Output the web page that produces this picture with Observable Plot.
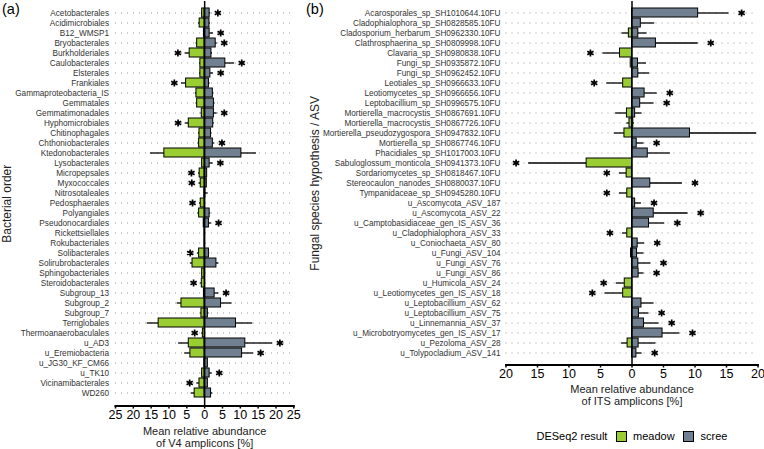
<!DOCTYPE html>
<html><head><meta charset="utf-8">
<script src="https://cdn.jsdelivr.net/npm/d3@7"></script>
<script src="https://cdn.jsdelivr.net/npm/@observablehq/plot@0.6"></script>
<style>
body{margin:0;background:#fff;}
#wrap{position:relative;width:764px;height:449px;overflow:hidden;font-family:"Liberation Sans",Arial,sans-serif;color:#000;}
.abs{position:absolute;white-space:nowrap;}
.box{position:absolute;box-sizing:border-box;border:1px solid #000;}
svg{position:absolute;top:0;}
</style></head><body><div id="wrap"></div>
<script>
// ---------- Panel (a): bacterial orders ----------
const bactOrders = ["Acetobacterales","Acidimicrobiales","B12_WMSP1","Bryobacterales","Burkholderiales","Caulobacterales","Elsterales","Frankiales","Gammaproteobacteria_IS","Gemmatales","Gemmatimonadales","Hyphomicrobiales","Chitinophagales","Chthoniobacterales","Ktedonobacterales","Lysobacterales","Micropepsales","Myxococcales","Nitrosotaleales","Pedosphaerales","Polyangiales","Pseudonocardiales","Rickettsiellales","Rokubacteriales","Solibacterales","Solirubrobacterales","Sphingobacteriales","Steroidobacterales","Subgroup_13","Subgroup_2","Subgroup_7","Terriglobales","Thermoanaerobaculales","u_AD3","u_Eremiobacteria","u_JG30_KF_CM66","u_TK10","Vicinamibacterales","WD260"];
const bactMeadow   = [-0.7,-1.4,-0.2,-2.1,-4.2,-1.2,-1.2,-5.2,-2.3,-2.1,-0.8,-4.45,-1.45,-1.55,-11.3,-0.7,-1.4,-1.1,-0.1,-1.1,-1.55,-0.25,-0.05,-0.05,-1.55,-3.4,-0.7,-0.8,-0.2,-6.5,-0.9,-12.9,-0.5,-4.45,-4.0,-0.1,-0.7,-1.45,-2.8];
const bactMeadowSD = [0.2,0.3,0.1,0.3,1.3,0.2,0.2,1.3,0.3,0.3,0.2,1.0,0.25,0.3,3.9,0.2,0.3,0.5,0.05,0.3,0.35,0.1,0,0,0.5,0.6,0.2,0.3,0.1,1.2,0.2,3.2,0.3,2.85,1.6,0,0.2,0.75,1.0];
const bactScree    = [1.4,1.35,1.4,3.1,1.9,5.8,1.6,1.2,2.3,2.6,2.6,2.4,1.8,2.3,10.3,1.4,0.7,0.6,0.2,0.1,1.4,1.2,0.05,0.05,1.2,3.3,0.1,0,2.8,4.6,0.9,8.8,0,11.4,10.5,0.9,1.4,0.9,1.8];
const bactScreeSD  = [0.3,0.25,1.1,0.4,0.3,2.6,0.9,0.3,0.3,0.3,0.9,0.3,0.2,0.55,4.2,1.0,0.1,0.1,0.8,0.1,0.3,0.7,0,0,0.2,0.7,0,0,1.2,3.1,0.3,4.7,0,7.7,3.2,0.1,0.7,0.1,0.5];
const bactSig = ["scree","","scree","scree","meadow","scree","scree","meadow","","","scree","meadow","","scree","","scree","meadow","meadow","","meadow","","scree","","","meadow","","","meadow","scree","","","","meadow","scree","scree","","scree","meadow",""];
const bactTicks = [-25,-20,-15,-10,-5,0,5,10,15,20,25];

// ---------- Panel (b): fungal species hypotheses / ASVs ----------
const fungNames = ["Acarosporales_sp_SH1010644.10FU","Cladophialophora_sp_SH0828585.10FU","Cladosporium_herbarum_SH0962330.10FU","Clathrosphaerina_sp_SH0809998.10FU","Clavaria_sp_SH0980838.10FU","Fungi_sp_SH0935872.10FU","Fungi_sp_SH0962452.10FU","Leotiales_sp_SH0966633.10FU","Leotiomycetes_sp_SH0966656.10FU","Leptobacillium_sp_SH0996575.10FU","Mortierella_macrocystis_SH0867691.10FU","Mortierella_macrocystis_SH0867726.10FU","Mortierella_pseudozygospora_SH0947832.10FU","Mortierella_sp_SH0867746.10FU","Phacidiales_sp_SH1017003.10FU","Sabuloglossum_monticola_SH0941373.10FU","Sordariomycetes_sp_SH0818467.10FU","Stereocaulon_nanodes_SH0880037.10FU","Tympanidaceae_sp_SH0945280.10FU","u_Ascomycota_ASV_187","u_Ascomycota_ASV_22","u_Camptobasidiaceae_gen_IS_ASV_36","u_Cladophialophora_ASV_33","u_Coniochaeta_ASV_80","u_Fungi_ASV_104","u_Fungi_ASV_76","u_Fungi_ASV_86","u_Humicola_ASV_24","u_Leotiomycetes_gen_IS_ASV_18","u_Leptobacillium_ASV_62","u_Leptobacillium_ASV_75","u_Linnemannia_ASV_37","u_Microbotryomycetes_gen_IS_ASV_17","u_Pezoloma_ASV_28","u_Tolypocladium_ASV_141"];
const fungMeadow   = [0,0,-0.5,0,-1.9,-0.2,0,-1.4,0,0,-0.8,-0.4,-1.2,0,0,-7.2,-0.85,0,-0.75,0,0,0,-0.75,0,-0.15,0,0,-1.15,-1.4,0,0,0,0,-0.7,0];
const fungMeadowSD = [0,0,1.1,0,2.7,0.05,0,2.6,0,0,1.8,0.4,1.6,0,0,9.2,1.15,0,1.25,0,0,0,0.75,0,0,0,0,1.35,2.9,0,0,0,0,0.95,0];
const fungScree    = [10.5,1.4,1.0,3.8,0,0.95,1.0,0,2.0,1.3,0.5,0.2,9.2,0.75,2.5,0,0,2.9,0,0.5,3.45,2.7,0,0.9,0.8,1.0,1.05,0,0,1.5,1.1,1.9,4.85,1.05,0.7];
const fungScreeSD  = [4.9,2.2,1.4,6.7,0,1.35,1.8,0,2.0,2.2,1.1,0.2,10.6,1.15,3.6,0,0,5.1,0,1.0,5.45,2.5,0,1.1,1.1,2.0,0.85,0,0,2.0,1.6,2.4,2.75,2.75,0.9];
const fungSig = ["scree","","","scree","meadow","","","meadow","scree","scree","","","","scree","","meadow","meadow","scree","meadow","scree","scree","scree","meadow","scree","","scree","scree","meadow","meadow","","scree","scree","scree","","scree"];
const fungTicks = [-20,-15,-10,-5,0,5,10,15,20];

const groups = ["meadow","scree"];
const groupColors = ["#9ACD32","#708090"];
const FONT = '"Liberation Sans", Arial, sans-serif';

function makePanel(o) {
  const bars = [], errs = [], stars = [];
  o.names.forEach((n, i) => {
    const m = o.meadow[i], md = o.meadowSD[i], s = o.scree[i], sd = o.screeSD[i];
    if (m < 0) bars.push({n, v: m, g: "meadow"});
    if (s > 0) bars.push({n, v: s, g: "scree"});
    if (md > 0) errs.push({n, a: m, b: m - md});
    if (sd > 0) errs.push({n, a: s, b: s + sd});
    if (o.sig[i] === "meadow") stars.push({n, x: m - md - 2});
    if (o.sig[i] === "scree") stars.push({n, x: s + sd + 2});
  });
  return Plot.plot({
    width: o.width, height: o.height,
    marginLeft: o.marginLeft, marginRight: o.marginRight,
    marginTop: 1, marginBottom: o.height - o.frameBottom,
    style: {fontFamily: FONT, background: "transparent", overflow: "visible"},
    x: {domain: [-o.xmax, o.xmax]},
    y: {type: "band", domain: o.names, range: o.yRange, paddingInner: 0.13, paddingOuter: 0, align: 0.5},
    color: {domain: groups, range: groupColors},
    marks: [
      Plot.gridY({stroke: "#9a9a9a", strokeOpacity: 1, strokeDasharray: "1,5", strokeWidth: 1}),
      Plot.ruleY(errs, {y: "n", x1: "a", x2: "b", stroke: "black", strokeWidth: 1.3}),
      Plot.barX(bars, {y: "n", x1: 0, x2: "v", fill: "g", stroke: "black", strokeWidth: 1}),
      Plot.ruleX([0], {stroke: "black", strokeWidth: 1.5}),
      Plot.dot(stars, {y: "n", x: "x", symbol: "asterisk", r: 3.4, stroke: "black", strokeWidth: 1.7}),
      Plot.frame({anchor: "bottom", stroke: "black", strokeWidth: 2}),
      Plot.axisX({ticks: o.ticks, tickFormat: d => Math.abs(d), tickSize: 3, tickPadding: 1.5, fontSize: 12.5, strokeWidth: 1.5, label: null, color: "black"}),
      Plot.axisY({tickSize: 0, tickPadding: o.yPad, fontSize: 8.2, label: null, color: "#333"}),
      Plot.text([o.yTitle], {frameAnchor: "left", textAnchor: "middle", dx: o.yTitleDx, rotate: -90, fontSize: 12, fill: "#222"}),
      Plot.text([o.xTitle], {frameAnchor: "bottom", lineAnchor: "top", dy: o.xTitleDy, fontSize: 11, lineHeight: 1.1, fill: "#222"})
    ]
  });
}

const wrap = document.getElementById("wrap");

const pa = makePanel({
  names: bactOrders, meadow: bactMeadow, meadowSD: bactMeadowSD, scree: bactScree, screeSD: bactScreeSD, sig: bactSig,
  xmax: 25, ticks: bactTicks, width: 300, height: 449, marginLeft: 115, marginRight: 6.7, frameBottom: 405.5,
  yRange: [1.9, 402.6], yPad: 6.5, yTitle: "Bacterial order", yTitleDx: -108,
  xTitle: "Mean relative abundance\nof V4 amplicons [%]", xTitleDy: 20
});
pa.style.left = "0px";
wrap.appendChild(pa);

const pb = makePanel({
  names: fungNames, meadow: fungMeadow, meadowSD: fungMeadowSD, scree: fungScree, screeSD: fungScreeSD, sig: fungSig,
  xmax: 20, ticks: fungTicks, width: 464, height: 420, marginLeft: 205.5, marginRight: 6.5, frameBottom: 364.5,
  yRange: [2.2, 362.0], yPad: 5.5, yTitle: "Fungal species hypothesis / ASV", yTitleDx: -190.5,
  xTitle: "Mean relative abundance\nof ITS amplicons [%]", xTitleDy: 19
});
pb.style.left = "300px";
wrap.appendChild(pb);

function addText(txt, left, cy, size) {
  const d = document.createElement("div");
  d.className = "abs";
  d.textContent = txt;
  d.style.left = left + "px";
  d.style.top = (cy - size / 2) + "px";
  d.style.fontSize = size + "px";
  d.style.lineHeight = size + "px";
  wrap.appendChild(d);
}
function addBox(left, cy, size, color) {
  const b = document.createElement("div");
  b.className = "box";
  b.style.left = left + "px";
  b.style.top = (cy - size / 2) + "px";
  b.style.width = size + "px";
  b.style.height = size + "px";
  b.style.background = color;
  wrap.appendChild(b);
}
addText("(a)", 2, 9, 14.5);
addText("(b)", 306, 9, 14.5);
addText("DESeq2 result", 536.5, 436, 11);
addBox(615.5, 436, 11, groupColors[0]);
addText(groups[0], 633, 436, 11);
addBox(683, 436, 11, groupColors[1]);
addText(groups[1], 700.5, 436, 11);
</script></body></html>
